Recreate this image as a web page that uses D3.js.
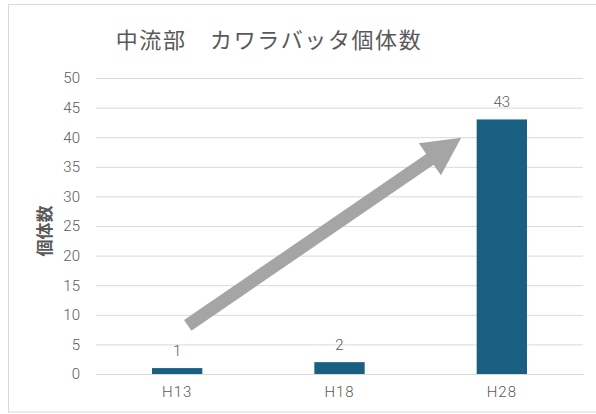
<!DOCTYPE html>
<html>
<head>
<meta charset="utf-8">
<script src="https://cdn.jsdelivr.net/npm/d3@7"></script>
<style>
  html, body { margin: 0; padding: 0; background: #fff; }
  svg { display: block; }
  text { font-family: "Noto Sans CJK JP", "Noto Sans", sans-serif; fill: #595959; }
</style>
</head>
<body>
<svg id="chart" width="596" height="414"></svg>
<script>
// 調査年と個体数
const categories = ["H13", "H18", "H28"];
const counts = [1, 2, 43];
const yTicks = [0, 5, 10, 15, 20, 25, 30, 35, 40, 45, 50];
const titleText = "中流部　カワラバッタ個体数";
const yAxisTitle = "個体数";
// 増加傾向を示す矢印（カテゴリ位置, 個体数）
const arrowFrom = [0.065, 8.2];
const arrowTo = [1.75, 39.9];

const svg = d3.select("#chart");
const W = 596, H = 414;
const margin = { left: 96, right: 13, top: 78, bottom: 40 };
const plotW = W - margin.left - margin.right;
const plotH = H - margin.top - margin.bottom;
const numFont = "'Roboto', sans-serif";

// 枠
svg.append("rect")
  .attr("x", 8.5).attr("y", 4.5)
  .attr("width", 600).attr("height", 407.5)
  .attr("fill", "#fff").attr("stroke", "#d9d9d9").attr("stroke-width", 1);

const g = svg.append("g").attr("transform", `translate(${margin.left},${margin.top})`);

const x = d3.scaleBand().domain(categories).range([0, plotW]).paddingInner(0.69).paddingOuter(0.345);
const y = d3.scaleLinear().domain([0, 50]).range([plotH, 0]);
// カテゴリ中心を連続値で扱うスケール
const xi = d3.scaleLinear().domain([0, categories.length - 1])
  .range([x(categories[0]) + x.bandwidth() / 2, x(categories[categories.length - 1]) + x.bandwidth() / 2]);

// 目盛線
const yAxis = d3.axisLeft(y).tickValues(yTicks).tickSize(-plotW).tickPadding(16);
const ya = g.append("g").call(yAxis);
ya.select(".domain").remove();
ya.selectAll(".tick line").attr("stroke", "#d9d9d9").attr("stroke-width", 1);
ya.selectAll(".tick text")
  .attr("font-size", 15).attr("fill", "#595959")
  .attr("font-weight", 300)
  .style("font-family", numFont);

// X 軸
const xAxis = d3.axisBottom(x).tickSize(0).tickPadding(12);
const xa = g.append("g").attr("transform", `translate(0,${plotH})`).call(xAxis);
xa.select(".domain").attr("stroke", "#d9d9d9");
xa.selectAll(".tick text")
  .attr("font-size", 15).attr("fill", "#595959")
  .attr("font-weight", 300)
  .style("font-family", numFont)
  .attr("letter-spacing", "1px");

// 棒
g.selectAll("rect.bar").data(counts).join("rect")
  .attr("class", "bar")
  .attr("x", (d, i) => x(categories[i]))
  .attr("y", d => y(d))
  .attr("width", x.bandwidth())
  .attr("height", d => plotH - y(d))
  .attr("fill", "#195f82");

// データラベル
g.selectAll("text.val").data(counts).join("text")
  .attr("class", "val")
  .attr("x", (d, i) => x(categories[i]) + x.bandwidth() / 2)
  .attr("y", d => y(d) - 12)
  .attr("text-anchor", "middle")
  .attr("font-size", 15)
  .attr("font-weight", 300)
  .style("font-family", numFont)
  .text(d => d);

// 矢印
(function drawArrow() {
  const x0 = xi(arrowFrom[0]), y0 = y(arrowFrom[1]);
  const x1 = xi(arrowTo[0]), y1 = y(arrowTo[1]);
  const len = Math.hypot(x1 - x0, y1 - y0);
  const ang = Math.atan2(y1 - y0, x1 - x0) * 180 / Math.PI;
  const sw = 6.5, hw = 19.5, hl = 38;
  const pts = [
    [0, -sw], [len - hl, -sw], [len - hl, -hw], [len, 0],
    [len - hl, hw], [len - hl, sw], [0, sw]
  ];
  g.append("path")
    .attr("d", d3.line()(pts) + "Z")
    .attr("transform", `translate(${x0},${y0}) rotate(${ang})`)
    .attr("fill", "#a5a5a5");
})();

// 軸タイトル
svg.append("text")
  .attr("transform", "translate(51,231) rotate(-90)")
  .attr("text-anchor", "middle")
  .attr("font-size", 17)
  .attr("font-weight", "bold")
  .attr("fill", "#595959")
  .text(yAxisTitle);

// タイトル
svg.append("text")
  .attr("x", 269).attr("y", 48)
  .attr("text-anchor", "middle")
  .attr("font-size", 22)
  .attr("letter-spacing", "1.6px")
  .text(titleText);
</script>
</body>
</html>
